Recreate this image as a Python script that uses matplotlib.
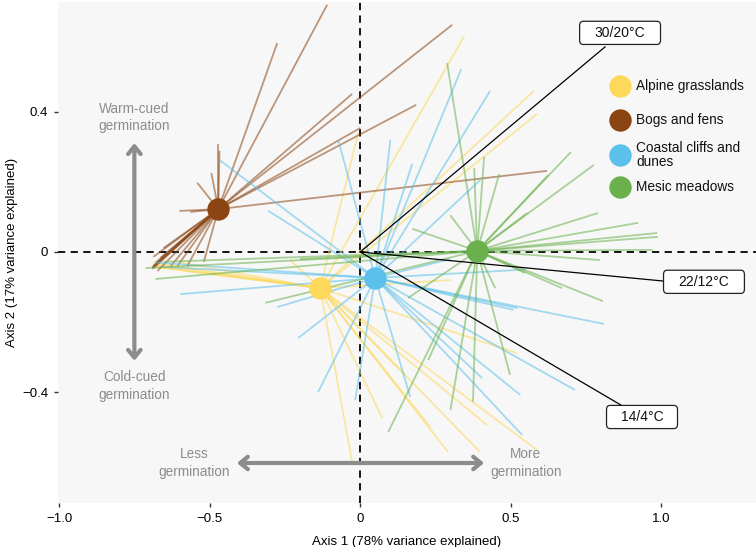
import matplotlib
matplotlib.use("Agg")
import matplotlib.pyplot as plt
from matplotlib.collections import LineCollection
from matplotlib.patches import FancyBboxPatch

plt.rcParams['font.family'] = ['Liberation Sans', 'DejaVu Sans']

groups = ["Alpine grasslands", "Bogs and fens", "Coastal cliffs and\ndunes", "Mesic meadows"]
colors = ["#FDD85A", "#8B4513", "#5BC0EB", "#6AB04C"]
centroids = [(-0.133, -0.103), (-0.472, 0.122), (0.050, -0.074), (0.389, 0.003)]

alpine_pts = [
    (0.346, 0.615), (0.578, 0.459), (0.588, 0.393), (-0.007, 0.339), (-0.233, -0.023),
    (-0.690, -0.030), (-0.688, -0.036), (-0.685, -0.042), (-0.660, -0.045), (-0.600, -0.030),
    (-0.027, -0.598), (0.073, -0.473), (0.233, -0.499), (0.292, -0.570), (0.399, -0.570),
    (0.422, -0.493), (0.588, -0.564), (0.522, -0.288), (0.150, -0.350), (0.300, -0.080),
]
bogs_pts = [
    (-0.110, 0.704), (-0.276, 0.595), (0.306, 0.647), (-0.027, 0.450), (0.186, 0.419),
    (0.621, 0.231), (0.000, 0.353), (-0.472, 0.308), (-0.468, 0.288), (-0.495, 0.225),
    (-0.542, 0.197), (-0.601, 0.117), (-0.565, 0.114), (-0.440, 0.110),
    (-0.691, -0.046), (-0.690, -0.048), (-0.692, -0.044), (-0.688, -0.040), (-0.680, -0.030),
    (-0.688, -0.014), (-0.654, 0.011), (-0.664, -0.017), (-0.630, -0.040), (-0.608, -0.040),
    (-0.575, -0.040), (-0.520, -0.028), (-0.674, -0.054),
]
coastal_pts = [
    (-0.468, 0.262), (-0.306, 0.117), (-0.073, 0.319), (0.336, 0.521), (0.432, 0.459),
    (0.173, 0.251), (0.399, 0.205), (0.100, 0.320), (-0.654, -0.043), (-0.680, -0.030),
    (-0.598, -0.120), (-0.276, -0.157), (-0.206, -0.245), (-0.140, -0.399), (-0.017, -0.422),
    (0.166, -0.413), (0.405, -0.359), (0.532, -0.407), (0.538, -0.521), (0.714, -0.393),
    (0.522, -0.160), (0.510, -0.165), (0.811, -0.205), (0.550, -0.050), (0.300, -0.020),
]
mesic_pts = [
    (0.289, 0.538), (0.379, 0.239), (0.412, 0.271), (0.462, 0.222), (0.299, 0.105),
    (0.173, 0.066), (0.701, 0.285), (0.777, 0.248), (0.791, 0.111), (0.924, 0.083),
    (0.987, 0.054), (0.990, 0.043), (0.555, 0.111), (0.625, 0.219), (0.973, 0.006),
    (0.797, -0.023), (0.807, -0.140), (0.671, -0.103), (0.548, -0.060), (0.159, -0.131),
    (0.449, -0.103), (-0.714, -0.046), (-0.681, -0.077), (-0.316, -0.145), (-0.654, -0.028),
    (-0.200, -0.020), (0.093, -0.513), (0.226, -0.308), (0.375, -0.427), (0.498, -0.350),
    (0.300, -0.450),
]
species_pts = [alpine_pts, bogs_pts, coastal_pts, mesic_pts]

temp_labels = ["30/20°C", "22/12°C", "14/4°C"]
temp_vec_ends = [(0.814, 0.584), (1.010, -0.083), (0.867, -0.436)]
temp_box_centers = [(0.864, 0.624), (1.143, -0.085), (0.937, -0.470)]
temp_box_widths = [0.269, 0.269, 0.236]
temp_box_height = 0.066

xticks = [-1.0, -0.5, 0, 0.5, 1.0]
xticklabels = ["\u22121.0", "\u22120.5", "0", "0.5", "1.0"]
yticks = [-0.4, 0, 0.4]
yticklabels = ["\u22120.4", "0", "0.4"]

fig = plt.figure(figsize=(7.56, 5.47), dpi=100)
ax = fig.add_axes([0.0767, 0.0804, 0.9233, 0.916])
ax.set_facecolor("#F7F7F7")
for s in ax.spines.values():
    s.set_visible(False)
ax.set_xlim(-1.005, 1.316)
ax.set_ylim(-0.715, 0.712)

# dashed reference lines
ax.axhline(0, color="black", ls=(0, (4, 3)), lw=1.3, zorder=1)
ax.axvline(0, color="black", ls=(0, (4, 3)), lw=1.3, zorder=1)

# spider lines
for c, cen, pts in zip(colors, centroids, species_pts):
    segs = [[cen, p] for p in pts]
    lc = LineCollection(segs, colors=c, linewidths=1.3, alpha=0.55, zorder=2)
    ax.add_collection(lc)

# temperature vectors with labelled boxes
for lab, end, bc, bw in zip(temp_labels, temp_vec_ends, temp_box_centers, temp_box_widths):
    ax.plot([0, end[0]], [0, end[1]], color="black", lw=0.9, zorder=3)
    box = FancyBboxPatch((bc[0] - bw / 2, bc[1] - temp_box_height / 2), bw, temp_box_height,
                         boxstyle="round,pad=0,rounding_size=0.012", fc="white", ec="#222222",
                         lw=0.9, zorder=6)
    ax.add_patch(box)
    ax.text(bc[0], bc[1], lab, ha="center", va="center", fontsize=10, zorder=7, color="#111111")

# centroids
for c, cen in zip(colors, centroids):
    ax.scatter([cen[0]], [cen[1]], s=260, color=c, zorder=5, linewidths=0)

# legend (manual)
leg_y = [0.473, 0.376, 0.276, 0.185]
for c, g, yy in zip(colors, groups, leg_y):
    ax.scatter([0.864], [yy], s=260, color=c, zorder=5, linewidths=0)
    ax.text(0.917, yy, g, ha="left", va="center", fontsize=9.8, color="#111111", linespacing=1.05)

# gray guide arrows
gray = "#8C8C8C"
astyle = "<->,head_length=0.55,head_width=0.45"
ax.annotate("", xy=(-0.751, 0.31), xytext=(-0.751, -0.31),
            arrowprops=dict(arrowstyle=astyle, color=gray, lw=3, shrinkA=0, shrinkB=0))
ax.annotate("", xy=(-0.41, -0.601), xytext=(0.412, -0.601),
            arrowprops=dict(arrowstyle=astyle, color=gray, lw=3, shrinkA=0, shrinkB=0))
ax.text(-0.751, 0.382, "Warm-cued\ngermination", ha="center", va="center", color=gray, fontsize=9.8, linespacing=1.3)
ax.text(-0.751, -0.382, "Cold-cued\ngermination", ha="center", va="center", color=gray, fontsize=9.8, linespacing=1.3)
ax.text(-0.551, -0.601, "Less\ngermination", ha="center", va="center", color=gray, fontsize=9.8, linespacing=1.3)
ax.text(0.551, -0.601, "More\ngermination", ha="center", va="center", color=gray, fontsize=9.8, linespacing=1.3)

ax.set_xticks(xticks)
ax.set_xticklabels(xticklabels)
ax.set_yticks(yticks)
ax.set_yticklabels(yticklabels)
ax.tick_params(length=3, width=1, color="#333333", labelsize=9.5, pad=4)
ax.set_xlabel("Axis 1 (78% variance explained)", fontsize=9.5, labelpad=8)
ax.set_ylabel("Axis 2 (17% variance explained)", fontsize=9.5)
ax.yaxis.set_label_coords(-0.058, 0.5)

fig.savefig("out.png", dpi=100)
